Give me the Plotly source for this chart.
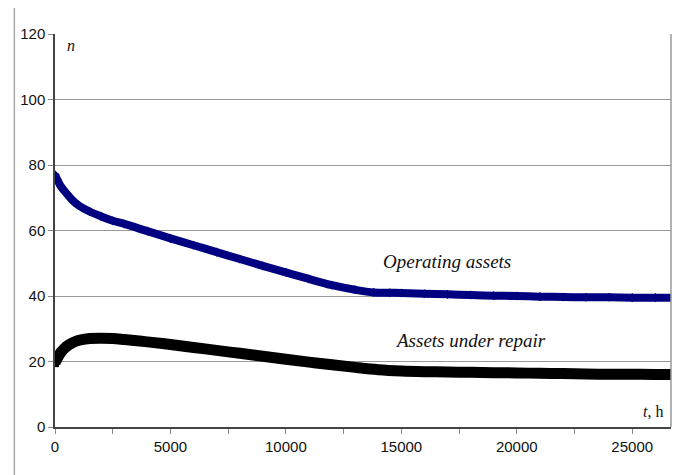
import plotly.graph_objects as go

# Operating assets
t_oper = [0, 100, 250, 500, 750, 1000, 1500, 2000, 2500, 3000, 4000, 5000, 6000, 7000,
          8000, 9000, 10000, 11000, 12000, 13000, 13800, 14500, 15000, 16000, 17000,
          18000, 19000, 20000, 21000, 22000, 23000, 24000, 25000, 26000, 26700]
n_oper = [77, 75.5, 73.5, 71.3, 69.3, 67.8, 65.8, 64.3, 63.0, 62.0, 59.8, 57.6, 55.5, 53.4,
          51.3, 49.2, 47.2, 45.2, 43.3, 41.9, 41.1, 41.0, 40.9, 40.7, 40.5,
          40.3, 40.1, 40.0, 39.8, 39.7, 39.6, 39.6, 39.5, 39.5, 39.5]

# Assets under repair
t_rep = [0, 100, 250, 500, 750, 1000, 1500, 2000, 2500, 3000, 4000, 5000, 6000, 7000,
         8000, 9000, 10000, 11000, 12000, 13000, 14000, 15000, 16000, 17000, 18000,
         19000, 20000, 21000, 22000, 23000, 24000, 25000, 26000, 26700]
n_rep = [19.5, 21.0, 22.8, 24.6, 25.7, 26.4, 27.0, 27.1, 27.0, 26.7, 26.0, 25.2, 24.3, 23.4,
         22.5, 21.6, 20.7, 19.8, 19.0, 18.2, 17.5, 17.1, 16.9, 16.8, 16.7,
         16.6, 16.5, 16.4, 16.3, 16.2, 16.1, 16.1, 16.0, 16.0]

x_ticks = [0, 5000, 10000, 15000, 20000, 25000]
x_labels = ["0", "5000", "10000", "15000", "20000", "25000"]
y_ticks = [0, 20, 40, 60, 80, 100, 120]
y_labels = ["0", "20", "40", "60", "80", "100", "120"]

fig = go.Figure()
fig.add_trace(go.Scatter(x=t_oper, y=n_oper, mode="lines+markers",
                         line=dict(color="#000080", width=8, shape="spline"),
                         marker=dict(symbol="diamond", size=7, color="#000080"),
                         showlegend=False))
fig.add_trace(go.Scatter(x=t_rep, y=n_rep, mode="lines+markers",
                         line=dict(color="#000000", width=11, shape="spline"),
                         marker=dict(symbol="square", size=8, color="#000000"),
                         showlegend=False))

fig.update_layout(
    width=689, height=467,
    margin=dict(l=43, r=26, t=26, b=48),
    plot_bgcolor="white", paper_bgcolor="white",
    font=dict(family="Liberation Sans, Arial", size=15, color="#111"),
    xaxis=dict(range=[0, 26680], tickvals=x_ticks, ticktext=x_labels,
               showgrid=False, zeroline=False,
               showline=True, linecolor="#444", linewidth=1.5,
               ticks="outside", ticklen=5, tickcolor="#888",
               minor=dict(ticks="outside", dtick=2500, tick0=0, ticklen=5, tickcolor="#888"),
               tickfont=dict(size=15)),
    yaxis=dict(range=[0, 120], tickvals=y_ticks, ticktext=y_labels,
               showgrid=True, gridcolor="#999",
               gridwidth=1, zeroline=False, showline=True, linecolor="#444",
               linewidth=1.5, ticks="outside", ticklen=5, tickcolor="#888",
               tickfont=dict(size=15)),
    shapes=[
        dict(type="line", xref="paper", yref="paper", x0=1, x1=1, y0=0, y1=1,
             line=dict(color="#999", width=1.5)),
        dict(type="rect", xref="paper", yref="paper", x0=-0.066, x1=1.08, y0=-0.25, y1=1.069,
             line=dict(color="#aaa", width=1.5), layer="below"),
    ],
    annotations=[
        dict(text="<i>n</i>", xref="paper", yref="paper", x=0.016, y=0.97,
             xanchor="left", yanchor="middle", showarrow=False,
             font=dict(family="Liberation Serif, Times New Roman", size=16, color="#111")),
        dict(text="<i>t</i>, h", xref="paper", yref="paper", x=0.99, y=0.04,
             xanchor="right", yanchor="middle", showarrow=False,
             font=dict(family="Liberation Serif, Times New Roman", size=16, color="#111")),
        dict(text="<i>Operating assets</i>", xref="paper", yref="paper", x=0.637, y=0.42,
             xanchor="center", yanchor="middle", showarrow=False,
             font=dict(family="Liberation Serif, Times New Roman", size=19, color="#111")),
        dict(text="<i>Assets under repair</i>", xref="paper", yref="paper", x=0.674, y=0.22,
             xanchor="center", yanchor="middle", showarrow=False,
             font=dict(family="Liberation Serif, Times New Roman", size=19, color="#111")),
    ],
)

fig.write_html("out.html")
